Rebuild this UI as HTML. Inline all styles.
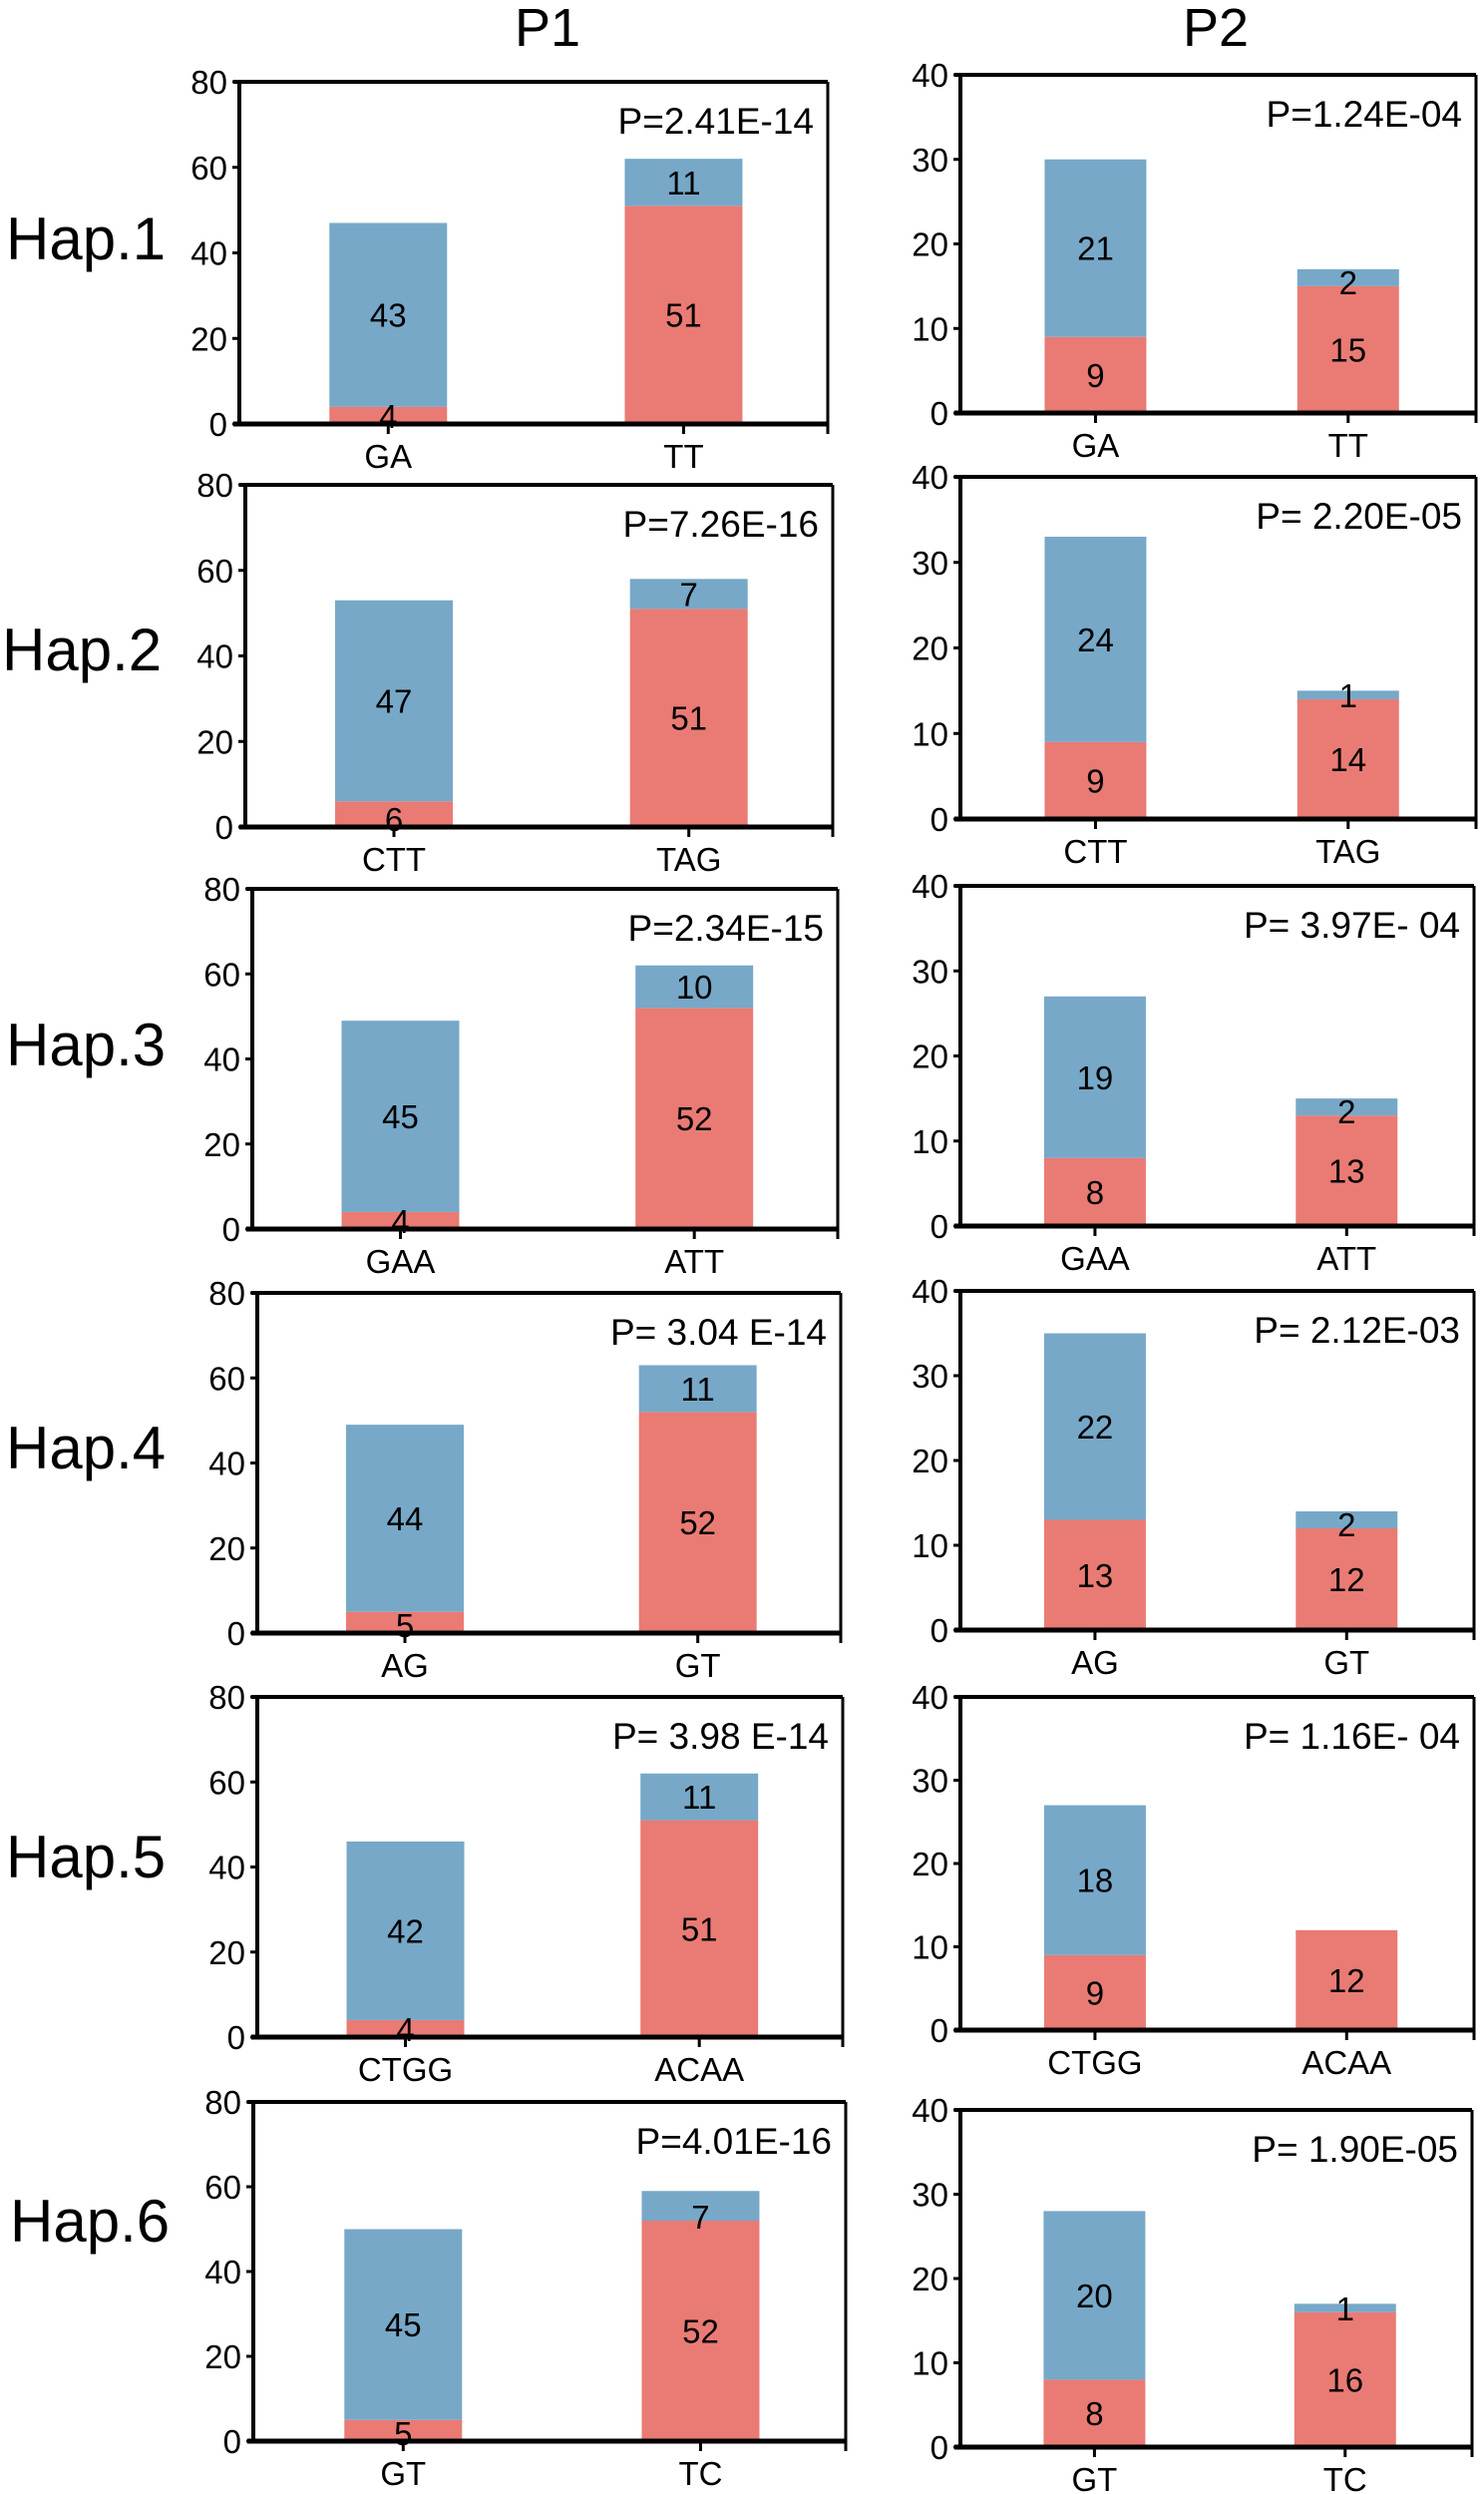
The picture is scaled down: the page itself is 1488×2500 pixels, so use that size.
<!DOCTYPE html>
<html><head><meta charset="utf-8"><style>
html,body{margin:0;padding:0;background:#fff}
svg{display:block;font-family:"Liberation Sans",Arial,sans-serif}
</style></head><body>
<svg id="chart" width="1488" height="2500" viewBox="0 0 1488 2500" xmlns="http://www.w3.org/2000/svg">
<text x="549" y="46" font-size="54" text-anchor="middle">P1</text>
<text x="1219" y="46" font-size="54" text-anchor="middle">P2</text>
</svg>
<script>
const hapLabels = ["Hap.1","Hap.2","Hap.3","Hap.4","Hap.5","Hap.6"];
const p1Categories = [["GA","TT"],["CTT","TAG"],["GAA","ATT"],["AG","GT"],["CTGG","ACAA"],["GT","TC"]];
const p1Red = [[4,51],[6,51],[4,52],[5,52],[4,51],[5,52]];
const p1Blue = [[43,11],[47,7],[45,10],[44,11],[42,11],[45,7]];
const p1PValues = ["P=2.41E-14","P=7.26E-16","P=2.34E-15","P= 3.04 E-14","P= 3.98 E-14","P=4.01E-16"];
const p2Categories = [["GA","TT"],["CTT","TAG"],["GAA","ATT"],["AG","GT"],["CTGG","ACAA"],["GT","TC"]];
const p2Red = [[9,15],[9,14],[8,13],[13,12],[9,12],[8,16]];
const p2Blue = [[21,2],[24,1],[19,2],[22,2],[18,0],[20,1]];
const p2PValues = ["P=1.24E-04","P= 2.20E-05","P= 3.97E- 04","P= 2.12E-03","P= 1.16E- 04","P=  1.90E-05"];
const p1Ticks = [0,20,40,60,80];
const p2Ticks = [0,10,20,30,40];

const svg = document.getElementById('chart');
const NS = 'http://www.w3.org/2000/svg';
function mk(tag, attrs, parent){const e=document.createElementNS(NS,tag);for(const k in attrs)e.setAttribute(k,attrs[k]);(parent||svg).appendChild(e);return e;}

const L1={left:[240,246,253,258,258,254],right:[830,835,840,843,845,848],top:[82,486,891,1296,1701,2107],zero:[425,829,1232,1637,2042,2447]};
const L2={left:[963,963,963,963,963,963],right:[1480,1480,1478,1478,1478,1476],top:[75,478,888,1294,1701,2115],zero:[414,821,1229,1634,2035,2453]};
const hapY=[260,672,1068,1472,1882,2247];
const hapX=[6,2,6,6,6,10];

function panel(L,i,cats,red,blue,pv,ticks,max,fr,bw,name){
  const left=L.left[i],right=L.right[i],top=L.top[i],zero=L.zero[i];
  const g=mk('g',{});
  
  
  const y=v=>zero-(v/max)*(zero-top);
  const x=f=>left+f*(right-left);
  for(let j=0;j<2;j++){
    const cx=x(fr[j]);
    const r=mk('rect',{x:cx-bw/2,y:y(red[i][j]),width:bw,height:zero-y(red[i][j]),fill:'#e97b74'},g);
    
    
    const b=mk('rect',{x:cx-bw/2,y:y(red[i][j]+blue[i][j]),width:bw,height:y(red[i][j])-y(red[i][j]+blue[i][j]),fill:'#77a8c8'},g);
    
    
    if(red[i][j]>0){
      let ty=(y(red[i][j])+zero)/2+12;
      if(zero-y(red[i][j])<30) ty=zero+4;
      const t=mk('text',{x:cx,y:ty,'font-size':33,'text-anchor':'middle'},g);t.textContent=red[i][j];
      
      
    }
    if(blue[i][j]>0){
      let ty=(y(red[i][j])+y(red[i][j]+blue[i][j]))/2+12;
      if(y(red[i][j])-y(red[i][j]+blue[i][j])<30) ty=y(red[i][j])+8;
      const t=mk('text',{x:cx,y:ty,'font-size':33,'text-anchor':'middle'},g);t.textContent=blue[i][j];
      
      
    }
    mk('line',{x1:cx,x2:cx,y1:zero,y2:zero+10,stroke:'#000','stroke-width':3},g);
    const xl=mk('text',{x:cx,y:zero+44,'font-size':33,'text-anchor':'middle'},g);xl.textContent=cats[i][j];
    
    
  }
  mk('line',{x1:left-6,x2:right,y1:top,y2:top,stroke:'#000','stroke-width':4},g);
  mk('line',{x1:left-6,x2:right+1,y1:zero,y2:zero,stroke:'#000','stroke-width':5},g);
  mk('line',{x1:left,x2:left,y1:top,y2:zero,stroke:'#000','stroke-width':4},g);
  mk('line',{x1:right,x2:right,y1:top,y2:zero+10,stroke:'#000','stroke-width':3},g);
  ticks.forEach(v=>{
    mk('line',{x1:left-7,x2:left,y1:y(v),y2:y(v),stroke:'#000','stroke-width':3},g);
    const t=mk('text',{x:left-12,y:y(v)+12,'font-size':33,'text-anchor':'end'},g);t.textContent=v;
    
    
  });
  const p=mk('text',{x:right-14,y:top+52,'font-size':37,'text-anchor':'end'},g);p.textContent=pv[i];
  
  
}
for(let i=0;i<6;i++){
  const h=mk('text',{x:hapX[i],y:hapY[i],'font-size':60});h.textContent=hapLabels[i];
  
  
  panel(L1,i,p1Categories,p1Red,p1Blue,p1PValues,p1Ticks,80,[0.253,0.755],118,'p1');
  panel(L2,i,p2Categories,p2Red,p2Blue,p2PValues,p2Ticks,40,[0.262,0.752],102,'p2');
}
</script>
</body></html>
